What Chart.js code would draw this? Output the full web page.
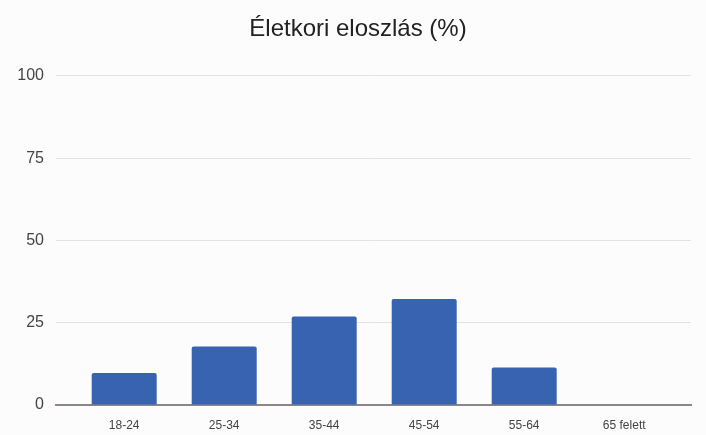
<!DOCTYPE html>
<html lang="hu">
<head>
<meta charset="utf-8">
<title>Életkori eloszlás (%)</title>
<script src="https://cdn.jsdelivr.net/npm/chart.js@4/dist/chart.umd.min.js"></script>
<style>
  html, body { margin: 0; padding: 0; background: #fcfcfc; }
  #wrap { width: 706px; height: 435px; position: relative; }
</style>
</head>
<body>
<div id="wrap"><canvas id="chart"></canvas></div>
<script>
// Age groups and their share of respondents (%)
const ageGroups = ['18-24', '25-34', '35-44', '45-54', '55-64', '65 felett'];
const sharePercent = [9.7, 17.8, 26.9, 32.2, 11.4, 0];
const yTicks = [0, 25, 50, 75, 100];
const chartTitle = 'Életkori eloszlás (%)';

const FONT = "'Liberation Sans', Arial, Helvetica, sans-serif";

// Bars sit on a numeric x axis (one unit per age group) so the
// category band can be placed freely inside the wider plot area.
const points = ageGroups.map((g, i) => ({ x: i, y: sharePercent[i] }));

// Nudge the title box so the heading sits a little right of the canvas centre.
const titleShift = {
  id: 'titleShift',
  afterLayout(chart) {
    if (chart.titleBlock) chart.titleBlock.left += 15;
  }
};

new Chart(document.getElementById('chart'), {
  type: 'bar',
  data: {
    datasets: [{
      label: chartTitle,
      data: points,
      backgroundColor: '#3763b0',
      borderWidth: 0,
      borderRadius: 2,
      borderSkipped: 'bottom',
      categoryPercentage: 1,
      barPercentage: 0.65
    }]
  },
  plugins: [titleShift],
  options: {
    responsive: true,
    maintainAspectRatio: false,
    animation: false,
    layout: { padding: { left: 10, right: 15, top: 0, bottom: 0 } },
    plugins: {
      legend: { display: false },
      tooltip: { enabled: false },
      title: {
        display: true,
        text: chartTitle,
        color: '#222222',
        font: { family: FONT, size: 24, weight: 'normal' },
        padding: { top: 15, bottom: 32 }
      }
    },
    scales: {
      x: {
        type: 'linear',
        offset: false,
        min: -0.682,
        max: 5.668,
        afterBuildTicks: (scale) => {
          scale.ticks = ageGroups.map((g, i) => ({ value: i }));
        },
        afterFit: (scale) => { scale.height = 30; },
        ticks: {
          autoSkip: false,
          maxRotation: 0,
          padding: 13,
          color: '#444444',
          font: { family: FONT, size: 12 },
          callback: (v) => ageGroups[v] ?? ''
        },
        grid: { display: false, drawTicks: false, offset: false },
        border: { display: true, color: '#8e8686', width: 2 }
      },
      y: {
        min: 0,
        max: 100,
        afterBuildTicks: (scale) => {
          scale.ticks = yTicks.map(v => ({ value: v }));
        },
        afterFit: (scale) => { scale.width = 46; },
        ticks: {
          padding: 12,
          color: '#444444',
          font: { family: FONT, size: 16 }
        },
        grid: { color: '#e6e1e1', lineWidth: 1, drawTicks: false },
        border: { display: false }
      }
    }
  }
});
</script>
</body>
</html>
